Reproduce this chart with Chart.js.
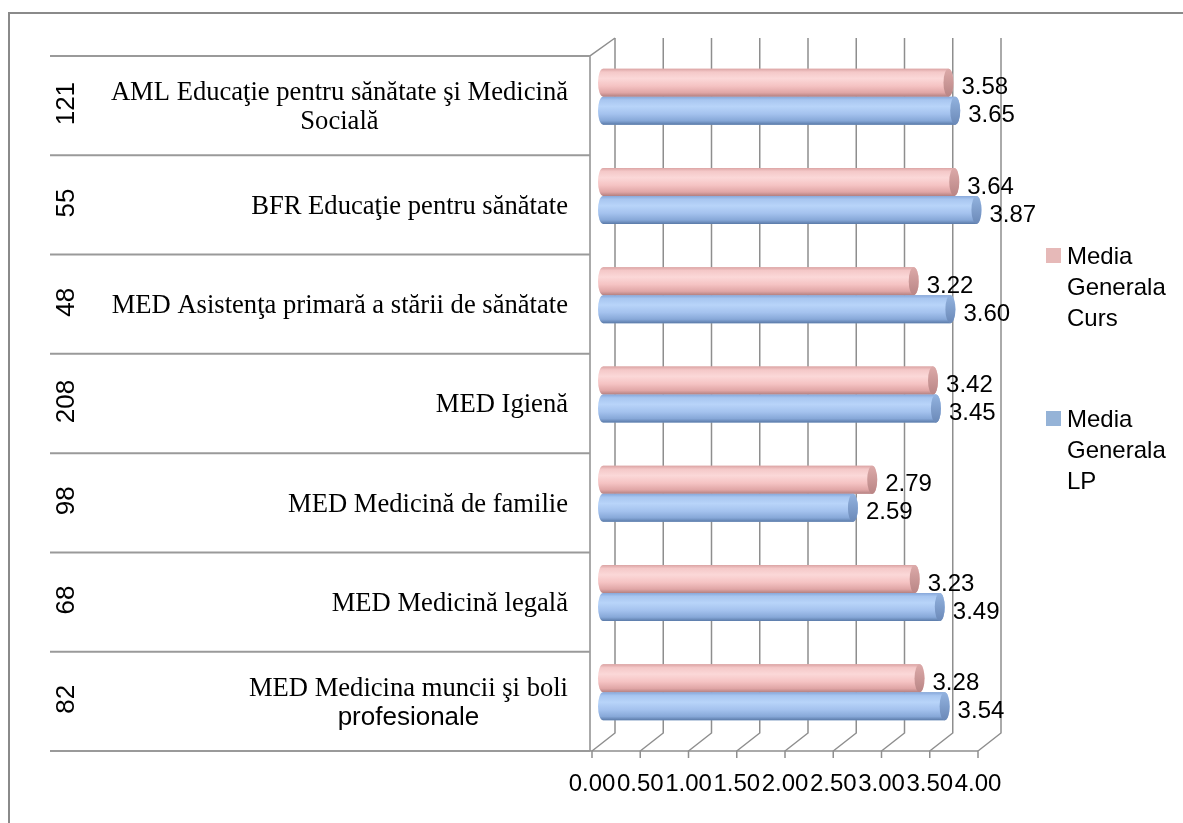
<!DOCTYPE html>
<html>
<head>
<meta charset="utf-8">
<script src="https://cdn.jsdelivr.net/npm/chart.js@4.4.1/dist/chart.umd.min.js"></script>
<style>
html,body{margin:0;padding:0;background:#fff;}
#wrap{width:1183px;height:823px;position:relative;}
</style>
</head>
<body>
<div id="wrap"><canvas id="c"></canvas></div>
<script>
const categories = [
  ["AML Educaţie pentru sănătate şi Medicină", "Socială"],
  ["BFR Educaţie pentru sănătate"],
  ["MED Asistenţa primară a stării de sănătate"],
  ["MED Igienă"],
  ["MED Medicină de familie"],
  ["MED Medicină legală"],
  ["MED Medicina muncii şi boli", "profesionale"]
];
const counts = ["121", "55", "48", "208", "98", "68", "82"];
const cursValues = [3.58, 3.64, 3.22, 3.42, 2.79, 3.23, 3.28];
const lpValues = [3.65, 3.87, 3.60, 3.45, 2.59, 3.49, 3.54];
const xTicks = [0, 0.5, 1, 1.5, 2, 2.5, 3, 3.5, 4];
const seriesNames = ["Media Generala Curs", "Media Generala LP"];
const legendLines = [["Media", "Generala", "Curs"], ["Media", "Generala", "LP"]];

const SANS = '"Liberation Sans", Arial, sans-serif';
const SERIF = '"Liberation Serif", "Times New Roman", serif';
const GRID = '#8e8e8e';
const DX_FRONT = -11, DY_FRONT = 9;   // mid-depth -> front plane
const DEPTH_X = 23, DEPTH_Y = -18;    // front plane -> back plane

const palette = {
  0: { flat: '#E6B9B8', cap: ['#dcaaa9', '#b98585'],
       grad: [[0,'#dba4a4'],[0.12,'#f4c8c8'],[0.35,'#fbd8d8'],[0.62,'#f5c3c3'],[0.86,'#e0a6a6'],[1,'#b38080']] },
  1: { flat: '#95B3D7', cap: ['#93b3df', '#6b89b8'],
       grad: [[0,'#88a8da'],[0.12,'#a8c6f0'],[0.35,'#b8d4f9'],[0.62,'#a4c2ee'],[0.86,'#87a8d8'],[1,'#5a7aa8']] }
};

const deco = {
  id: 'deco',
  beforeDraw(chart) {
    const ctx = chart.ctx;
    ctx.save();
    ctx.fillStyle = '#fff';
    ctx.fillRect(0, 0, chart.width, chart.height);
    ctx.strokeStyle = '#8a8a8a';
    ctx.lineWidth = 2;
    ctx.beginPath();
    ctx.moveTo(9, 823); ctx.lineTo(9, 13); ctx.lineTo(1183, 13);
    ctx.stroke();
    ctx.restore();
  },
  beforeDatasetsDraw(chart) {
    const ctx = chart.ctx, xs = chart.scales.x, a = chart.chartArea;
    const fTop = a.top + DY_FRONT, fBot = a.bottom + DY_FRONT;
    const bTop = fTop + DEPTH_Y, bBot = fBot + DEPTH_Y;
    ctx.save();
    ctx.strokeStyle = GRID;
    ctx.lineWidth = 1.5;
    xTicks.forEach(v => {
      const xf = xs.getPixelForValue(v) + DX_FRONT;
      const xb = xf + DEPTH_X;
      ctx.beginPath();
      ctx.moveTo(xb, bTop); ctx.lineTo(xb, bBot); ctx.lineTo(xf, fBot); ctx.lineTo(xf, fBot + 7);
      ctx.stroke();
    });
    const x0f = xs.getPixelForValue(0) + DX_FRONT - 2;
    const x4f = xs.getPixelForValue(4) + DX_FRONT;
    ctx.beginPath();
    ctx.moveTo(x0f, fBot); ctx.lineTo(x4f, fBot);
    ctx.moveTo(x0f, fBot); ctx.lineTo(x0f, fTop); ctx.lineTo(x0f + DEPTH_X + 2, bTop);
    ctx.stroke();
    ctx.lineWidth = 2;
    ctx.strokeStyle = '#9a9a9a';
    const n = categories.length;
    for (let i = 0; i <= n; i++) {
      const y = fTop + (fBot - fTop) * i / n;
      ctx.beginPath();
      ctx.moveTo(50, y); ctx.lineTo(x0f, y);
      ctx.stroke();
    }
    ctx.restore();
  },
  afterDatasetsDraw(chart) {
    const ctx = chart.ctx;
    ctx.save();
    chart.data.datasets.forEach((ds, di) => {
      const meta = chart.getDatasetMeta(di);
      const pal = palette[di];
      meta.data.forEach((el, i) => {
        const p = el.getProps(['x', 'y', 'base', 'height'], true);
        const h = p.height, top = p.y - h / 2, bot = p.y + h / 2, rx = 5;
        const g = ctx.createLinearGradient(0, top, 0, bot);
        pal.grad.forEach(s => g.addColorStop(s[0], s[1]));
        ctx.beginPath();
        ctx.moveTo(p.base, top);
        ctx.lineTo(p.x, top);
        ctx.ellipse(p.x, p.y, rx, h / 2, 0, -Math.PI / 2, Math.PI / 2);
        ctx.lineTo(p.base, bot);
        ctx.ellipse(p.base, p.y, rx, h / 2, 0, Math.PI / 2, Math.PI * 1.5);
        ctx.closePath();
        ctx.fillStyle = g;
        ctx.fill();
        const cg = ctx.createLinearGradient(0, top, 0, bot);
        cg.addColorStop(0, pal.cap[0]); cg.addColorStop(1, pal.cap[1]);
        ctx.beginPath();
        ctx.ellipse(p.x, p.y, rx, h / 2, 0, 0, Math.PI * 2);
        ctx.fillStyle = cg;
        ctx.fill();
        ctx.fillStyle = '#000';
        ctx.font = '24px ' + SANS;
        ctx.textAlign = 'left';
        ctx.textBaseline = 'middle';
        ctx.fillText(ds.data[i].toFixed(2), p.x + 13, p.y + 5);
      });
    });
    ctx.restore();
  },
  afterDraw(chart) {
    const ctx = chart.ctx, xs = chart.scales.x, ys = chart.scales.y;
    ctx.save();
    ctx.fillStyle = '#000';
    ctx.font = '24px ' + SANS;
    ctx.textAlign = 'center';
    ctx.textBaseline = 'middle';
    xTicks.forEach(v => {
      ctx.fillText(v.toFixed(2), xs.getPixelForValue(v) + DX_FRONT, 784);
    });
    categories.forEach((lines, i) => {
      const yc = ys.getPixelForValue(i) + DY_FRONT;
      const right = 568;
      const fonts = lines.map((t, k) => (k === 1 && t === 'profesionale') ? ('26px ' + SANS) : ('26.6px ' + SERIF));
      let maxW = 0;
      lines.forEach((t, k) => { ctx.font = fonts[k]; maxW = Math.max(maxW, ctx.measureText(t).width); });
      const cx = right - maxW / 2;
      const lh = 29;
      lines.forEach((t, k) => {
        ctx.font = fonts[k];
        ctx.textAlign = 'center';
        ctx.textBaseline = 'middle';
        ctx.fillText(t, cx, yc + 2 + (k - (lines.length - 1) / 2) * lh);
      });
      ctx.save();
      ctx.translate(67, yc - 2);
      ctx.rotate(-Math.PI / 2);
      ctx.font = '26px ' + SANS;
      ctx.textAlign = 'center';
      ctx.textBaseline = 'middle';
      ctx.fillText(counts[i], 0, 0);
      ctx.restore();
    });
    const ly = [248, 411];
    legendLines.forEach((lines, k) => {
      ctx.fillStyle = palette[k].flat;
      ctx.fillRect(1046, ly[k], 15, 15);
      ctx.fillStyle = '#000';
      ctx.font = '24px ' + SANS;
      ctx.textAlign = 'left';
      ctx.textBaseline = 'alphabetic';
      lines.forEach((t, j) => ctx.fillText(t, 1067, ly[k] + 16 + j * 31));
    });
    ctx.restore();
  }
};

new Chart(document.getElementById('c'), {
  type: 'bar',
  data: {
    labels: categories,
    datasets: [
      { label: seriesNames[0], data: cursValues, backgroundColor: palette[0].flat, borderWidth: 0 },
      { label: seriesNames[1], data: lpValues, backgroundColor: palette[1].flat, borderWidth: 0 }
    ]
  },
  options: {
    indexAxis: 'y',
    responsive: true,
    maintainAspectRatio: false,
    animation: false,
    layout: { padding: { left: 603, right: 194, top: 47, bottom: 81 } },
    categoryPercentage: 0.564,
    barPercentage: 1,
    scales: {
      x: { display: false, min: 0, max: 4, ticks: { stepSize: 0.5 } },
      y: { display: false }
    },
    plugins: { legend: { display: false }, tooltip: { enabled: false } }
  },
  plugins: [deco]
});
</script>
</body>
</html>
